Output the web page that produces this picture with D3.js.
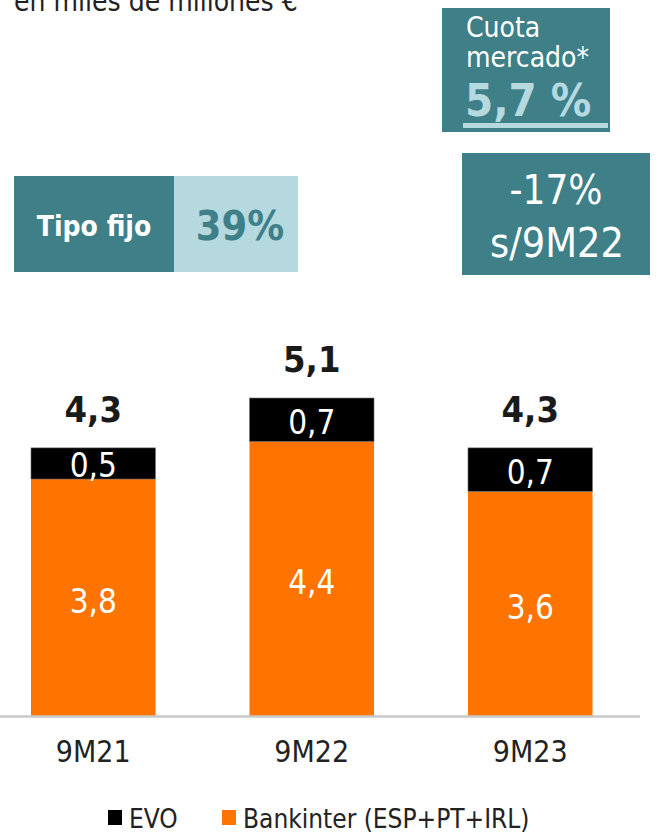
<!DOCTYPE html>
<meta charset="utf-8">
<script src="https://d3js.org/d3.v7.min.js"></script>
<style>
  body { margin: 0; background: #fff; }
  svg text { font-family: "DejaVu Sans Condensed", "DejaVu Sans", sans-serif; }
</style>
<div id="my_dataviz"></div>
<script>
    // data
    const categories = ["9M21", "9M22", "9M23"];
    const bankinter = [3.8, 4.4, 3.6];
    const evo = [0.5, 0.7, 0.7];
    const totals = [4.3, 5.1, 4.3];
    const seriesNames = ["EVO", "Bankinter (ESP+PT+IRL)"];
    const seriesColors = ["#000000", "#FF7300"];

    const fmt = v => d3.format(".1f")(v).replace(".", ",");

    const width = 666, height = 834;
    const teal = "#3E7F88", lightBlue = "#B5D9DF";

    const svg = d3.select("#my_dataviz")
        .append("svg")
        .attr("width", width)
        .attr("height", height);

    // subtitle (cut at top of picture, as in the original)
    svg.append("text")
        .attr("x", 14).attr("y", 11)
        .attr("font-size", 28).attr("fill", "#222").attr("font-weight", 200)
        .text("en miles de millones €");

    // Cuota mercado box
    svg.append("rect").attr("x", 442).attr("y", 8).attr("width", 168).attr("height", 124).attr("fill", teal);
    svg.append("text").attr("x", 466).attr("y", 37).attr("font-size", 28).attr("font-weight", 300).attr("fill", "#fff").text("Cuota");
    svg.append("text").attr("x", 466).attr("y", 67).attr("font-size", 28).attr("font-weight", 300).attr("fill", "#fff").text("mercado*");
    svg.append("text").attr("x", 465).attr("y", 116).attr("font-size", 45).attr("font-weight", "bold")
        .attr("fill", lightBlue).text("5,7 %");
    svg.append("rect").attr("x", 463).attr("y", 123).attr("width", 145).attr("height", 5).attr("fill", lightBlue);

    // Tipo fijo box
    svg.append("rect").attr("x", 14).attr("y", 176).attr("width", 160).attr("height", 96).attr("fill", teal);
    svg.append("rect").attr("x", 174).attr("y", 176).attr("width", 124).attr("height", 96).attr("fill", lightBlue);
    svg.append("text").attr("x", 94).attr("y", 236).attr("text-anchor", "middle").attr("font-size", 28)
        .attr("font-weight", "bold").attr("fill", "#fff").text("Tipo fijo");
    svg.append("text").attr("x", 240).attr("y", 240).attr("text-anchor", "middle").attr("font-size", 41)
        .attr("font-weight", "bold").attr("fill", teal).text("39%");

    // -17% box
    svg.append("rect").attr("x", 462).attr("y", 153).attr("width", 188).attr("height", 122).attr("fill", teal);
    svg.append("text").attr("x", 556).attr("y", 204).attr("text-anchor", "middle").attr("font-size", 40)
        .attr("font-weight", 200).attr("fill", "#fff").text("-17%");
    svg.append("text").attr("x", 557).attr("y", 257).attr("text-anchor", "middle").attr("font-size", 41)
        .attr("font-weight", 200).attr("fill", "#fff").text("s/9M22");

    // scales
    const x = d3.scaleBand()
        .domain(categories)
        .range([-16, 639.5])
        .paddingInner(0.43)
        .paddingOuter(0.215);

    const y = d3.scaleLinear()
        .domain([0, 5.1])
        .range([716, 398]);

    const rows = categories.map((c, i) => ({ cat: c, bk: bankinter[i], evo: evo[i], total: totals[i] }));

    // orange segments
    svg.append("g").selectAll("rect")
        .data(rows).join("rect")
        .attr("x", d => x(d.cat))
        .attr("width", x.bandwidth())
        .attr("y", d => y(d.bk))
        .attr("height", d => y(0) - y(d.bk))
        .attr("fill", seriesColors[1]);

    // black segments
    svg.append("g").selectAll("rect")
        .data(rows).join("rect")
        .attr("x", d => x(d.cat))
        .attr("width", x.bandwidth())
        .attr("y", d => y(d.bk + d.evo))
        .attr("height", d => y(d.bk) - y(d.bk + d.evo))
        .attr("fill", seriesColors[0])
        .attr("stroke", "#777").attr("stroke-width", 0.6);

    // segment labels
    svg.append("g").selectAll("text")
        .data(rows).join("text")
        .attr("x", d => x(d.cat) + x.bandwidth() / 2)
        .attr("y", d => (y(0) + y(d.bk)) / 2 + 15)
        .attr("text-anchor", "middle").attr("font-size", 33).attr("font-weight", 200)
        .attr("fill", "#fff")
        .text(d => fmt(d.bk));

    svg.append("g").selectAll("text")
        .data(rows).join("text")
        .attr("x", d => x(d.cat) + x.bandwidth() / 2)
        .attr("y", d => (y(d.bk) + y(d.bk + d.evo)) / 2 + 14)
        .attr("text-anchor", "middle").attr("font-size", 33).attr("font-weight", 200)
        .attr("fill", "#fff")
        .text(d => fmt(d.evo));

    // totals
    svg.append("g").selectAll("text")
        .data(rows).join("text")
        .attr("x", d => x(d.cat) + x.bandwidth() / 2)
        .attr("y", d => y(d.total) - 26)
        .attr("text-anchor", "middle").attr("font-size", 36).attr("font-weight", "bold")
        .attr("fill", "#1a1a1a")
        .text(d => fmt(d.total));

    // x axis
    const xAxis = svg.append("g")
        .attr("transform", `translate(0, ${y(0)})`)
        .call(d3.axisBottom(x).tickSize(0).tickPadding(25));
    xAxis.select(".domain").attr("stroke", "#c8c8c8").attr("stroke-width", 2.5);
    xAxis.selectAll("text")
        .attr("font-size", 30).attr("fill", "#222").attr("font-weight", 200)
        .attr("font-family", "'DejaVu Sans Condensed', 'DejaVu Sans', sans-serif");

    // legend
    const legendX = [108, 222];
    const legend = svg.append("g").selectAll("g")
        .data(seriesNames).join("g")
        .attr("transform", (d, i) => `translate(${legendX[i]}, 810)`);
    legend.append("rect")
        .attr("width", 14).attr("height", 15)
        .attr("fill", (d, i) => seriesColors[i]);
    legend.append("text")
        .attr("x", 21).attr("y", 18)
        .attr("font-size", 26).attr("font-weight", 200).attr("fill", "#222")
        .text(d => d);
</script>
